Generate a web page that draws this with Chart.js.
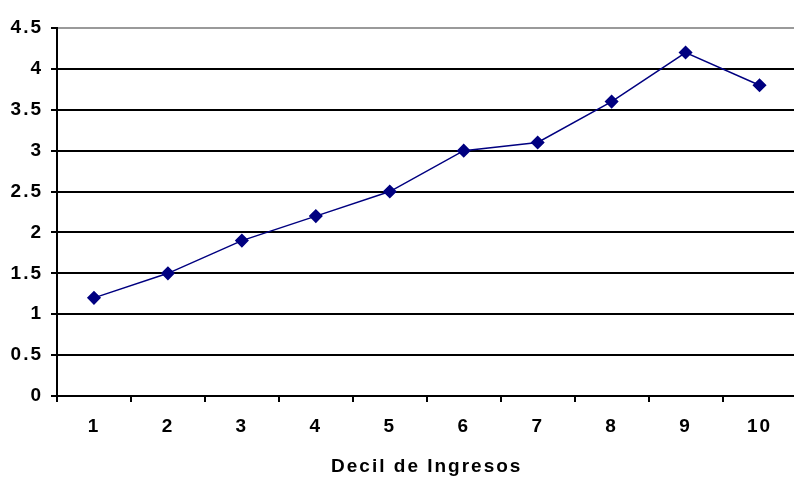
<!DOCTYPE html>
<html><head><meta charset="utf-8">
<script src="https://cdn.jsdelivr.net/npm/chart.js@4"></script>
<style>html,body{margin:0;padding:0;background:#fff;overflow:hidden;}#wrap{width:804px;height:478px;}</style>
</head><body><div id="wrap"><canvas id="c" width="804" height="478"></canvas></div>
<script>
const categories = ["1","2","3","4","5","6","7","8","9","10"];
const values = [1.2, 1.5, 1.9, 2.2, 2.5, 3.0, 3.1, 3.6, 4.2, 3.8];
const yTicks = [0, 0.5, 1, 1.5, 2, 2.5, 3, 3.5, 4, 4.5];
const xTitle = "Decil de Ingresos";
const fam = "'Liberation Sans', Arial, sans-serif";
const tickFont = {family: fam, size: 19, weight: 'bold'};
const titleFont = {family: fam, size: 19, weight: 'bold'};
const spacing = {
  id: 'spacing',
  beforeUpdate(chart) { chart.ctx.letterSpacing = '2px'; },
  beforeLayout(chart) { chart.ctx.letterSpacing = '2px'; },
  beforeDraw(chart) { chart.ctx.letterSpacing = '2px'; }
};
new Chart(document.getElementById('c'), {
  type: 'line',
  plugins: [spacing],
  data: {labels: categories, datasets: [{
    data: values, borderColor: '#000080', backgroundColor: '#000080', borderWidth: 1.5,
    pointStyle: 'rectRot', pointRadius: 6, pointHoverRadius: 6, tension: 0
  }]},
  options: {
    responsive: false, animation: false, devicePixelRatio: 1,
    layout: {padding: {top: 28, right: 0, left: 0, bottom: 0}},
    plugins: {legend: {display: false}, tooltip: {enabled: false}},
    scales: {
      x: {
        offset: true,
        afterFit: s => { s.height = 82; },
        grid: {offset: true, drawOnChartArea: false, drawTicks: true, tickLength: 6, color: '#000', lineWidth: 2},
        border: {color: '#000', width: 2},
        ticks: {color: '#000', font: tickFont, padding: 13, maxRotation: 0},
        title: {display: true, text: xTitle, color: '#000', font: titleFont, padding: {top: 8, bottom: 0}}
      },
      y: {
        min: 0, max: 4.5,
        afterBuildTicks: s => { s.ticks = yTicks.map(v => ({value: v})); },
        afterFit: s => { s.width = 57; },
        grid: {
          color: ctx => (ctx.tick && ctx.tick.value === 4.5) ? '#9a9a9a' : '#000',
          lineWidth: 2, tickLength: 6, drawTicks: true,
          tickColor: '#000'
        },
        border: {color: '#000', width: 2},
        ticks: {color: '#000', font: tickFont, padding: 8, callback: v => String(v)}
      }
    }
  }
});
</script></body></html>
